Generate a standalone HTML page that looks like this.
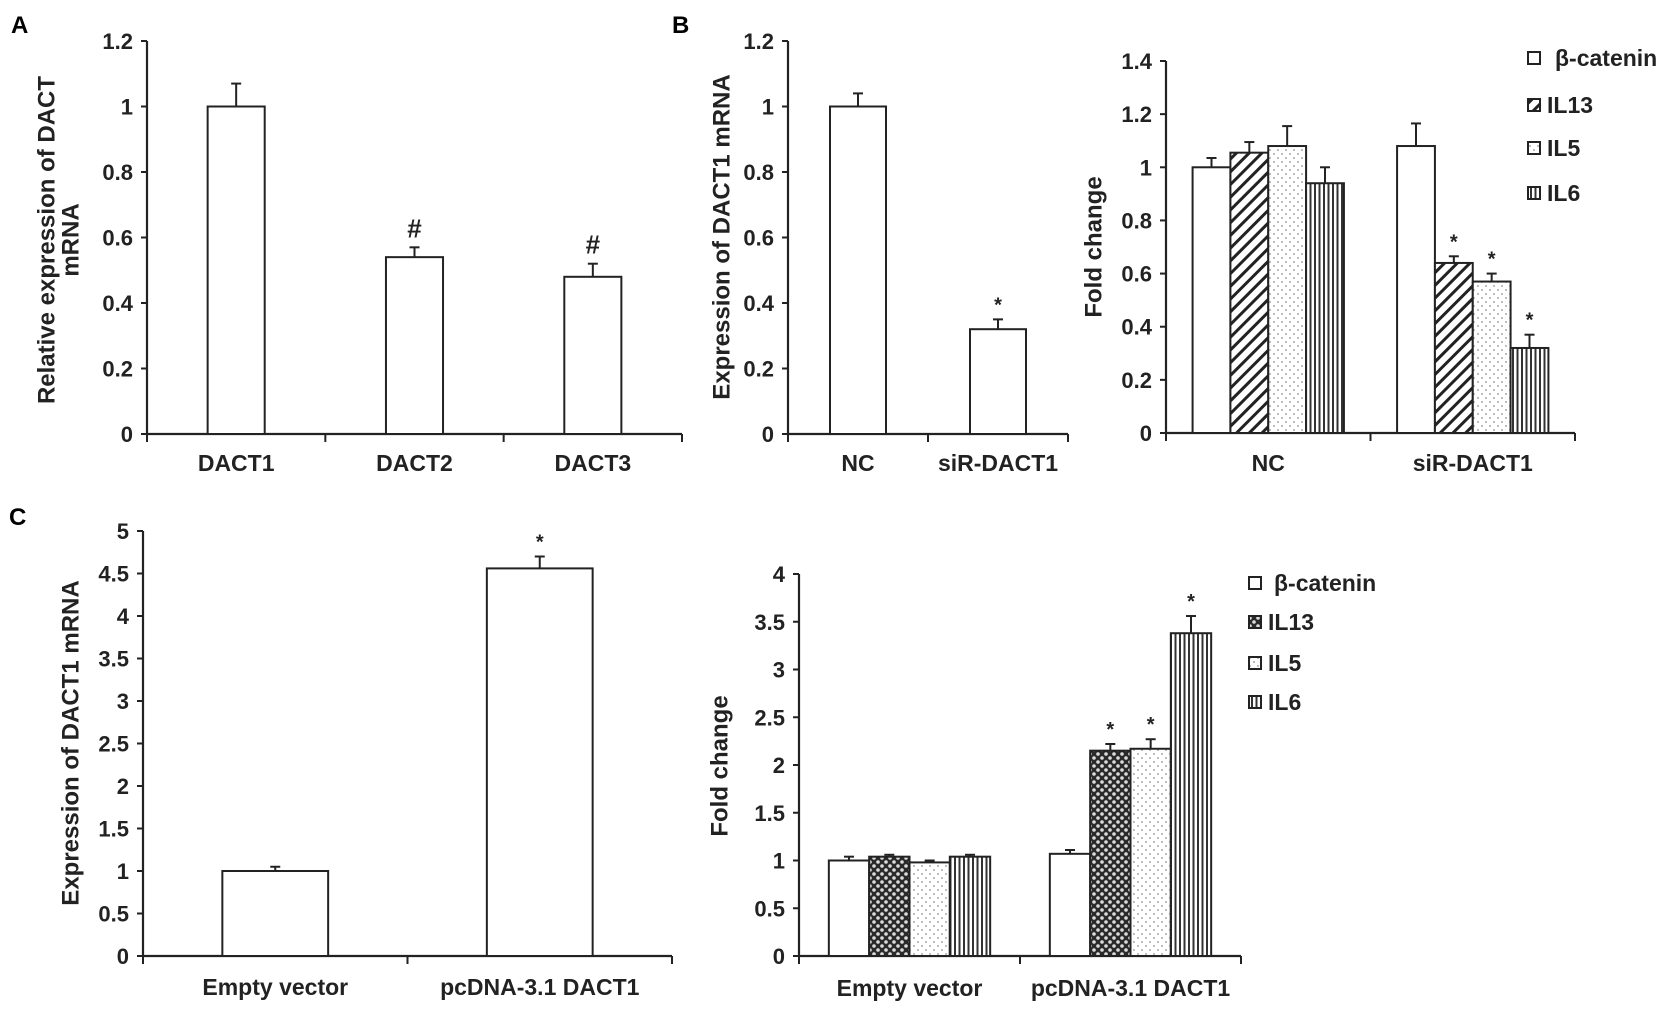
<!DOCTYPE html>
<html><head><meta charset="utf-8"><style>
html,body{margin:0;padding:0;background:#fff;}
svg{display:block;font-family:"Liberation Sans",Arial,sans-serif;font-weight:bold;}
</style></head><body>
<svg id="fig" width="1677" height="1012" viewBox="0 0 1677 1012" xmlns="http://www.w3.org/2000/svg">
<defs>
<pattern id="p-diag" patternUnits="userSpaceOnUse" width="9" height="9" patternTransform="rotate(45)"><rect width="9" height="9" fill="#fff"/><rect x="0" y="0" width="3" height="9" fill="#222"/></pattern>
<pattern id="p-vert" patternUnits="userSpaceOnUse" width="4.5" height="10"><rect width="4.5" height="10" fill="#fff"/><rect x="0" y="0" width="2" height="10" fill="#333"/></pattern>
<pattern id="p-dots" patternUnits="userSpaceOnUse" width="8" height="8"><rect width="8" height="8" fill="#fff"/><circle cx="2" cy="2" r="1" fill="#aaa"/><circle cx="6" cy="6" r="1" fill="#aaa"/></pattern>
<pattern id="p-cross" patternUnits="userSpaceOnUse" width="8" height="8"><rect width="8" height="8" fill="#2a2a2a"/><circle cx="2" cy="2" r="1.8" fill="#ddd"/><circle cx="6" cy="6" r="1.8" fill="#ddd"/></pattern>
</defs>
<text x="11" y="33" font-size="24">A</text>
<text x="672" y="33" font-size="24">B</text>
<text x="9" y="525" font-size="24">C</text>
</svg>
<script>
// ---- Panel A data ----
const aCategories = ["DACT1","DACT2","DACT3"];
const aValues = [1.0, 0.54, 0.48];
const aErrors = [0.07, 0.03, 0.04];
const aMarks = ["", "#", "#"];
const aTicks = ["0","0.2","0.4","0.6","0.8","1","1.2"];
// ---- Panel B left ----
const bCategories = ["NC","siR-DACT1"];
const bValues = [1.0, 0.32];
const bErrors = [0.04, 0.03];
const bMarks = ["", "*"];
const bTicks = ["0","0.2","0.4","0.6","0.8","1","1.2"];
// ---- Panel B right ----
const b2Categories = ["NC","siR-DACT1"];
const b2Series = ["β-catenin","IL13","IL5","IL6"];
const b2Catenin = [1.0, 1.08];
const b2IL13 = [1.055, 0.64];
const b2IL5 = [1.08, 0.57];
const b2IL6 = [0.94, 0.32];
const b2CateninErr = [0.035, 0.085];
const b2IL13Err = [0.04, 0.025];
const b2IL5Err = [0.075, 0.03];
const b2IL6Err = [0.06, 0.05];
const b2Ticks = ["0","0.2","0.4","0.6","0.8","1","1.2","1.4"];
// ---- Panel C left ----
const cCategories = ["Empty vector","pcDNA-3.1 DACT1"];
const cValues = [1.0, 4.56];
const cErrors = [0.05, 0.14];
const cMarks = ["", "*"];
const cTicks = ["0","0.5","1","1.5","2","2.5","3","3.5","4","4.5","5"];
// ---- Panel C right ----
const c2Categories = ["Empty vector","pcDNA-3.1 DACT1"];
const c2Series = ["β-catenin","IL13","IL5","IL6"];
const c2Catenin = [1.0, 1.07];
const c2IL13 = [1.04, 2.15];
const c2IL5 = [0.98, 2.17];
const c2IL6 = [1.04, 3.38];
const c2CateninErr = [0.04, 0.04];
const c2IL13Err = [0.02, 0.07];
const c2IL5Err = [0.02, 0.10];
const c2IL6Err = [0.02, 0.18];
const c2Ticks = ["0","0.5","1","1.5","2","2.5","3","3.5","4"];

const NS = "http://www.w3.org/2000/svg";
const svg = document.getElementById("fig");
function mk(tag, attrs, parent){
  const e = document.createElementNS(NS, tag);
  for (const k in attrs) e.setAttribute(k, attrs[k]);
  (parent||svg).appendChild(e);
  return e;
}

function drawChart(cfg){
  const g = mk("g", {});
  
  
  const yMax = parseFloat(cfg.ticks[cfg.ticks.length-1]);
  const ys = v => cfg.y0 - (v / yMax) * (cfg.y0 - cfg.yTop);
  const n = cfg.categories.length;
  const cw = (cfg.xEnd - cfg.x0) / n;
  const ya = mk("line", {x1:cfg.x0, y1:cfg.yTop, x2:cfg.x0, y2:cfg.y0+1, stroke:"#222","stroke-width":2.2}, g);
  
  
  cfg.ticks.forEach(t => {
    const y = ys(parseFloat(t));
    mk("line", {x1:cfg.x0-6, y1:y, x2:cfg.x0, y2:y, stroke:"#222","stroke-width":2}, g);
    const tx = mk("text", {x:cfg.x0-14, y:y+8, "font-size":22, "text-anchor":"end", fill:"#222"}, g);
    
    
    tx.textContent = t;
  });
  const xa = mk("line", {x1:cfg.x0, y1:cfg.y0, x2:cfg.xEnd, y2:cfg.y0, stroke:"#222","stroke-width":2.2}, g);
  
  
  for (let i=0;i<=n;i++){
    const x = cfg.x0 + i*cw;
    mk("line", {x1:x, y1:cfg.y0, x2:x, y2:cfg.y0+8, stroke:"#222","stroke-width":2}, g);
  }
  cfg.categories.forEach((c,i) => {
    const t = mk("text", {x:cfg.x0+(i+0.5)*cw, y:cfg.labelY, "font-size":23, "text-anchor":"middle", fill:"#222"}, g);
    
    
    t.textContent = c;
  });
  const series = cfg.series;
  const k = series.length;
  const gw = cw * cfg.groupFrac;
  const bw = gw / k;
  cfg.categories.forEach((c,i) => {
    const cx = cfg.x0 + (i+0.5)*cw;
    series.forEach((s,j) => {
      const v = s.values[i];
      const x = cx - gw/2 + j*bw;
      const y = ys(v);
      const r = mk("rect", {x:x, y:y, width:bw, height:cfg.y0-y, fill:s.fill, stroke:"#222","stroke-width":2}, g);
      
      
      const ye = ys(v + s.errors[i]);
      const bx = x + bw/2;
      const e1 = mk("line", {x1:bx, y1:y, x2:bx, y2:ye, stroke:"#222","stroke-width":2}, g);
      
      
      mk("line", {x1:bx-5, y1:ye, x2:bx+5, y2:ye, stroke:"#222","stroke-width":2}, g);
      const m = s.marks ? s.marks[i] : "";
      if (m){
        const isHash = m === "#";
        const mt = mk("text", {x:bx, y:ye-(isHash?10:8), "font-size":isHash?26:20, "text-anchor":"middle", fill:"#222"}, g);
        
        
        mt.textContent = m;
      }
    });
  });
  const tg = mk("g", {transform:"translate(" + cfg.titleX + "," + cfg.titleY + ") rotate(-90)"}, g);
  cfg.title.forEach((line,li) => {
    const t = mk("text", {x:0, y:li*24, "font-size":24, "text-anchor":"middle", "dominant-baseline":"central", fill:"#222"}, tg);
    
    
    t.textContent = line;
  });
  if (cfg.legend){
    cfg.legend.rows.forEach((ly, j) => {
      const s = series[j];
      const lg = mk("g", {}, g);
      
      
      mk("rect", {x:cfg.legend.x, y:ly-6, width:12, height:12, fill:s.fill, stroke:"#222","stroke-width":2}, lg);
      const t = mk("text", {x:cfg.legend.x + (j===0?cfg.legend.firstOff:19), y:ly+8, "font-size":23, fill:"#222"}, lg);
      t.textContent = s.label;
    });
  }
}

drawChart({name:"panel-a-chart", x0:147, xEnd:682, yTop:41, y0:434, labelY:471, ticks:aTicks,
  categories:aCategories, groupFrac:0.32,
  series:[{key:"dact", values:aValues, errors:aErrors, marks:aMarks, fill:"#fff"}],
  title:["Relative expression of DACT","mRNA"], titleX:47, titleY:240});

drawChart({name:"panel-b-left-chart", x0:788, xEnd:1068, yTop:41, y0:434, labelY:471, ticks:bTicks,
  categories:bCategories, groupFrac:0.4,
  series:[{key:"dact1", values:bValues, errors:bErrors, marks:bMarks, fill:"#fff"}],
  title:["Expression of DACT1 mRNA"], titleX:722, titleY:237});

drawChart({name:"panel-b-right-chart", x0:1166, xEnd:1575, yTop:61, y0:433, labelY:471, ticks:b2Ticks,
  categories:b2Categories, groupFrac:0.74,
  series:[
    {key:"catenin", label:b2Series[0], values:b2Catenin, errors:b2CateninErr, fill:"#fff"},
    {key:"il13", label:b2Series[1], values:b2IL13, errors:b2IL13Err, marks:["","*"], fill:"url(#p-diag)"},
    {key:"il5", label:b2Series[2], values:b2IL5, errors:b2IL5Err, marks:["","*"], fill:"url(#p-dots)"},
    {key:"il6", label:b2Series[3], values:b2IL6, errors:b2IL6Err, marks:["","*"], fill:"url(#p-vert)"}],
  title:["Fold change"], titleX:1094, titleY:247,
  legend:{x:1528, rows:[58,105,148,193], firstOff:27}});

drawChart({name:"panel-c-left-chart", x0:143, xEnd:672, yTop:531, y0:956, labelY:995, ticks:cTicks,
  categories:cCategories, groupFrac:0.4,
  series:[{key:"dact1", values:cValues, errors:cErrors, marks:cMarks, fill:"#fff"}],
  title:["Expression of DACT1 mRNA"], titleX:71, titleY:743});

drawChart({name:"panel-c-right-chart", x0:799, xEnd:1241, yTop:574, y0:956, labelY:996, ticks:c2Ticks,
  categories:c2Categories, groupFrac:0.73,
  series:[
    {key:"catenin", label:c2Series[0], values:c2Catenin, errors:c2CateninErr, fill:"#fff"},
    {key:"il13", label:c2Series[1], values:c2IL13, errors:c2IL13Err, marks:["","*"], fill:"url(#p-cross)"},
    {key:"il5", label:c2Series[2], values:c2IL5, errors:c2IL5Err, marks:["","*"], fill:"url(#p-dots)"},
    {key:"il6", label:c2Series[3], values:c2IL6, errors:c2IL6Err, marks:["","*"], fill:"url(#p-vert)"}],
  title:["Fold change"], titleX:720, titleY:766,
  legend:{x:1249, rows:[583,622,663,702], firstOff:25}});
</script>
</body></html>
